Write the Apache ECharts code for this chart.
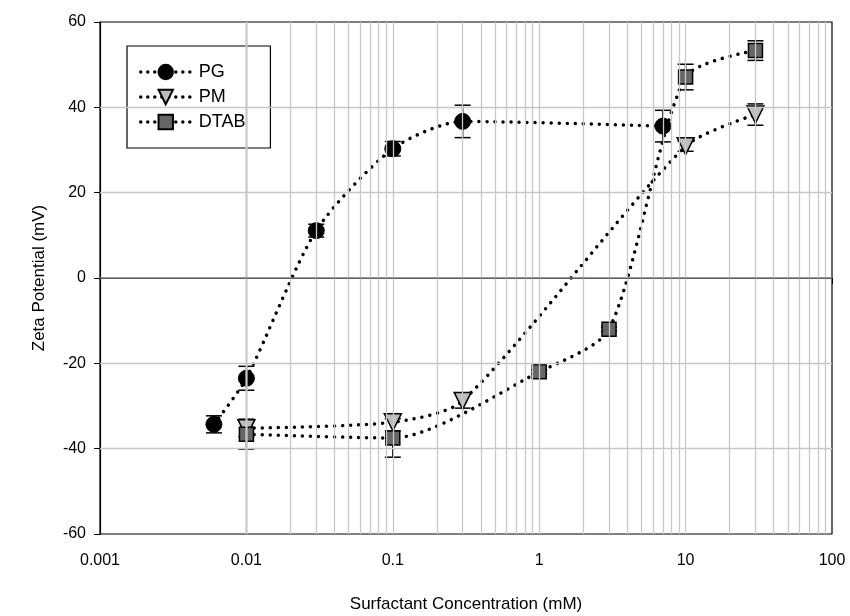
<!DOCTYPE html>
<html><head><meta charset="utf-8">
<script src="https://cdn.jsdelivr.net/npm/echarts@6/dist/echarts.min.js"></script>
<style>html,body{margin:0;padding:0;background:#fff}#c{width:850px;height:616px}</style>
</head><body><div id="c"></div>
<script>
// Data: [concentration mM, zeta mV, error]
const pgX = [0.006, 0.01, 0.03, 0.1, 0.3, 7];
const pgY = [-34.3, -23.5, 11.1, 30.3, 36.7, 35.6];
const pgE = [2.0, 2.8, 1.5, 1.7, 3.8, 3.7];
const pmX = [0.01, 0.1, 0.3, 10, 30];
const pmY = [-35.2, -33.8, -28.8, 30.9, 38.3];
const pmE = [2.0, 2.0, 1.7, 1.2, 2.5];
const dtX = [0.01, 0.1, 1, 3, 10, 30];
const dtY = [-36.6, -37.5, -22.0, -12.0, 47.1, 53.3];
const dtE = [3.5, 4.5, 0.5, 0.5, 3.0, 2.3];
const xTicks = [0.001, 0.01, 0.1, 1, 10, 100];
const minorMult = [2, 3, 4, 5, 6, 7, 8, 9];

const zip = (xs, ys) => xs.map((x, i) => [x, ys[i]]);
const zipE = (xs, ys, es) => xs.map((x, i) => [x, ys[i], es[i]]);

const minorLines = [];
for (let d = 0; d < xTicks.length - 1; d++) {
  minorMult.forEach(m => minorLines.push({xAxis: xTicks[d] * m}));
  if (d > 0) minorLines.push({xAxis: xTicks[d]});
}
const hLines = [{yAxis: -40}, {yAxis: -20}, {yAxis: 20}, {yAxis: 40}];

const font = 'Liberation Sans, Arial, sans-serif';
const dotted = {color: '#000', width: 3.5, type: [0.01, 8], cap: 'round'};

function errSeries(data) {
  return {
    type: 'custom', z: 3, silent: true,
    data: data,
    encode: {x: 0, y: 1},
    renderItem: function (params, api) {
      const x = api.value(0), y = api.value(1), e = api.value(2);
      const top = api.coord([x, y + e]);
      const bot = api.coord([x, y - e]);
      const hw = 8;
      const st = {stroke: '#000', lineWidth: 1.5, fill: null};
      return {type: 'group', children: [
        {type: 'line', shape: {x1: top[0], y1: top[1], x2: bot[0], y2: bot[1]}, style: st},
        {type: 'line', shape: {x1: top[0] - hw, y1: top[1], x2: top[0] + hw, y2: top[1]}, style: st},
        {type: 'line', shape: {x1: bot[0] - hw, y1: bot[1], x2: bot[0] + hw, y2: bot[1]}, style: st}
      ]};
    }
  };
}

const chart = echarts.init(document.getElementById('c'));
chart.setOption({
  animation: false,
  backgroundColor: '#fff',
  grid: {left: 100, right: 18, top: 22, bottom: 82, containLabel: false, outerBoundsMode: 'none',
    show: true, borderColor: '#000', borderWidth: 1.2, backgroundColor: 'transparent'},
  legend: {
    orient: 'vertical', left: 127, top: 46,
    backgroundColor: '#fff',
    borderColor: '#000', borderWidth: 1.2,
    padding: [17, 25, 17, 12],
    itemGap: 7, itemWidth: 50, itemHeight: 18,
    lineStyle: {color: '#000', width: 3.5, type: [0.01, 7], cap: 'round'},
    textStyle: {fontFamily: font, fontSize: 18, color: '#000', padding: [0, 0, 0, 3]},
    data: ['PG', 'PM', 'DTAB']
  },
  xAxis: {
    type: 'log', logBase: 10, min: 0.001, max: 100,
    name: 'Surfactant Concentration (mM)', nameLocation: 'middle', nameGap: 62,
    nameTextStyle: {fontFamily: font, fontSize: 17, color: '#000'},
    axisLine: {show: true, lineStyle: {color: '#000', width: 1.2}},
    axisTick: {show: true, inside: false, length: 6, lineStyle: {color: '#000'}},
    axisLabel: {fontFamily: font, fontSize: 16, color: '#000', margin: 19,
      formatter: v => { const m = xTicks.find(t => Math.abs(t - v) / t < 1e-6); return m !== undefined ? String(m) : ''; }},
    splitLine: {show: false},
    minorTick: {show: false}
  },
  yAxis: {
    type: 'value', min: -60, max: 60, interval: 20,
    name: 'Zeta Potential (mV)', nameLocation: 'middle', nameGap: 52,
    nameTextStyle: {fontFamily: font, fontSize: 17, color: '#000'},
    axisLine: {show: true, onZero: false, lineStyle: {color: '#000', width: 1.2}},
    axisTick: {show: true, inside: false, length: 6, lineStyle: {color: '#000'}},
    axisLabel: {fontFamily: font, fontSize: 16, color: '#000', margin: 14},
    splitLine: {show: false}
  },
  series: [
    {
      type: 'line', name: 'grid', data: [], z: 1, silent: true, legendHoverLink: false,
      markLine: {silent: true, symbol: 'none', label: {show: false}, animation: false,
        lineStyle: {color: '#c8c8c8', width: 1.3, type: 'solid'},
        data: minorLines.concat(hLines)}
    },
    {
      type: 'line', name: 'zero', data: [], z: 1, silent: true,
      markLine: {silent: true, symbol: 'none', label: {show: false}, animation: false,
        lineStyle: {color: '#7a7a7a', width: 1.5, type: 'solid'},
        data: [{yAxis: 0}]}
    },
    errSeries(zipE(pgX, pgY, pgE)),
    errSeries(zipE(pmX, pmY, pmE)),
    errSeries(zipE(dtX, dtY, dtE)),
    {
      type: 'line', name: 'PG', data: zip(pgX, pgY), smooth: 0.25, z: 4,
      symbol: 'circle', symbolSize: 16,
      itemStyle: {color: '#000', borderColor: '#000', borderWidth: 1},
      lineStyle: dotted
    },
    {
      type: 'line', name: 'PM', data: zip(pmX, pmY), smooth: 0.25, z: 4,
      symbol: 'triangle', symbolRotate: 180, symbolSize: 17,
      itemStyle: {color: '#bdbdbd', borderColor: '#000', borderWidth: 1.5},
      lineStyle: dotted
    },
    {
      type: 'line', name: 'DTAB', data: zip(dtX, dtY), smooth: 0.25, z: 4,
      symbol: 'rect', symbolSize: 14,
      itemStyle: {color: '#666666', borderColor: '#000', borderWidth: 1.5},
      lineStyle: dotted
    }
  ]
});
</script></body></html>
